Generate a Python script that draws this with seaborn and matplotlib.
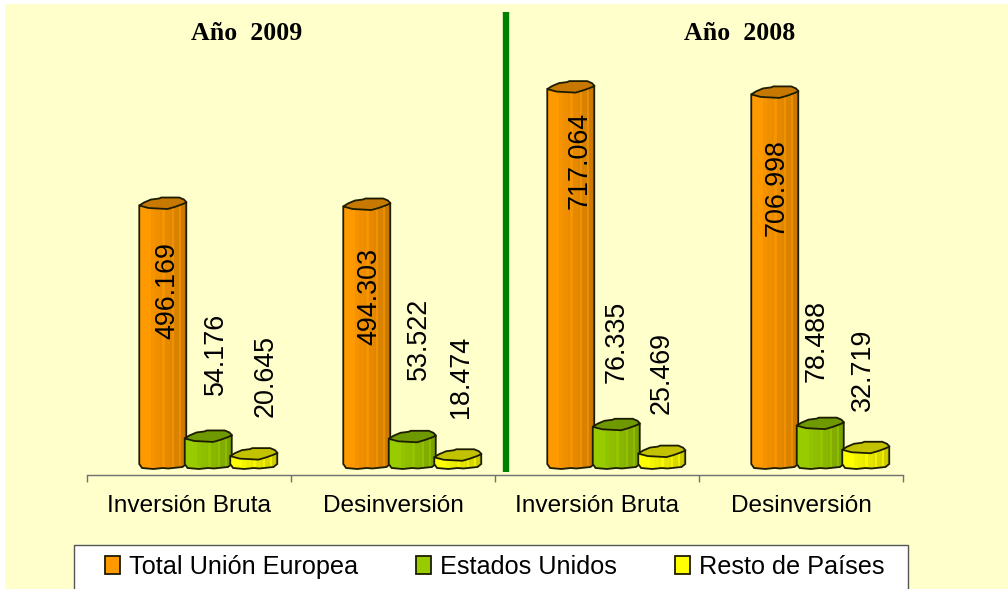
import numpy as np
import pandas as pd
import matplotlib
matplotlib.use('Agg')
import matplotlib.pyplot as plt
import seaborn as sns
from matplotlib.lines import Line2D
from matplotlib.patches import Patch, Polygon, Rectangle

# data
groups = ['2009 Inversión Bruta', '2009 Desinversión', '2008 Inversión Bruta', '2008 Desinversión']
tick_labels = ['Inversión Bruta', 'Desinversión', 'Inversión Bruta', 'Desinversión']
series = ['Total Unión Europea', 'Estados Unidos', 'Resto de Países']
union_europea = [496169, 494303, 717064, 706998]
estados_unidos = [54176, 53522, 76335, 78488]
resto_paises = [20645, 18474, 25469, 32719]

# styles
colors = ['#FF9900', '#99CC00', '#FFFF00']
cap_colors = ['#C67800', '#6F9900', '#C2C200']
shades = [1, 1, 1, 1, 1, .96, .96, .94, .94, .92, .97, .90, .90, .88, .95, .85, .85, .93, .80, .78]
edge = '#1c1c00'
W, H = 1008, 589
px_per_unit = 0.000527

# label offsets in pixels: from bar centre (x), from bar top to label centre (y, up is positive)
label_dx = [[5, 3, 10, 3], [8, 7, 1, -3], [13, 4, 1, -2]]
label_dy = [[-85, -90, -71, -93], [85, 100, 85, 85], [80, 80, 81, 80]]

rows = []
for name, vals in zip(series, [union_europea, estados_unidos, resto_paises]):
    for g, v in zip(groups, vals):
        rows.append({'grupo': g, 'serie': name, 'valor': v})
df = pd.DataFrame(rows)

sns.set_theme(style='white')
plt.rcParams['font.family'] = ['Liberation Sans', 'DejaVu Sans']

fig = plt.figure(figsize=(W / 100, H / 100), dpi=100, facecolor='white')
fig.patches.append(Rectangle((5 / W, 0), 1 - 5 / W, 1 - 4 / H, transform=fig.transFigure,
                             facecolor='#FFFFCC', edgecolor='none', zorder=-5))

ax = fig.add_axes([87 / W, 1 - 475 / H, 816 / W, 471 / H])
ax.patch.set_alpha(0)

sns.barplot(data=df, x='grupo', y='valor', hue='serie', order=groups, hue_order=series,
            palette=colors, width=0.669, gap=0, saturation=1, legend=False, ax=ax)

shift = 18.5 / 204
ax.set_xlim(-0.5 - shift, 3.5 - shift)
ax.set_ylim(-8 / px_per_unit, 463 / px_per_unit)
xlim, ylim = ax.get_xlim(), ax.get_ylim()
dx_px = 4 / 816
dy_px = 1 / px_per_unit

# cap and foot outlines, as fraction of width and pixels
cap_x = [0, .10, .25, .42, .47, .85, .95, 1, 1, .90, .75, .60, .20]
cap_y = [0, 3, 6, 7, 8, 8, 6, 3.5, 3, 1, -1.5, -3.5, -2.5]
foot_x = [1, .92, .62, .50, .30, .06, 0]
foot_y = [3, 0, -1.5, -1, -2, -1, 3]

for s, container in enumerate(ax.containers):
    for b, bar in enumerate(container):
        x0 = bar.get_x()
        w = bar.get_width() + 1.5 * dx_px
        top = bar.get_height()
        bottom_pts = [(x0 + fx * w, fy * dy_px) for fx, fy in zip(foot_x, foot_y)]
        body_pts = [(x0, top), (x0 + w, top + 3 * dy_px)] + bottom_pts
        body = Polygon(body_pts, closed=True, facecolor='none', edgecolor=edge, lw=1.3, zorder=3 + s)
        ax.add_patch(body)
        bar.set_zorder(2 + s)
        bar.set_clip_path(body)

        shade = np.array(shades)[None, :, None] * np.array(matplotlib.colors.to_rgb(colors[s]))[None, None, :]
        im = ax.imshow(np.clip(shade, 0, 1), extent=(x0, x0 + w, -4 * dy_px, top + 4 * dy_px),
                       aspect='auto', interpolation='nearest', zorder=2.5 + s)
        im.set_clip_path(body)

        cap_pts = [(x0 + fx * w, top + fy * dy_px) for fx, fy in zip(cap_x, cap_y)]
        ax.add_patch(Polygon(cap_pts, closed=True, facecolor=cap_colors[s], edgecolor=edge, lw=1.3, zorder=3 + s))

        text = f'{int(top):,}'.replace(',', '.')
        ax.annotate(text, xy=(x0 + bar.get_width() / 2, top), xytext=(label_dx[s][b], label_dy[s][b]),
                    textcoords='offset pixels', rotation=90, ha='center', va='center',
                    fontsize=19.4, color='black', zorder=20)

ax.set_xlim(xlim)
ax.set_ylim(ylim)

sns.despine(ax=ax, left=True)
ax.spines['bottom'].set_color('#707070')
ax.spines['bottom'].set_linewidth(1)
ax.set_yticks([])
ax.set_xlabel('')
ax.set_ylabel('')
ax.set_xticks([i - 0.5 - shift for i in range(5)])
ax.set_xticklabels([])
ax.tick_params(axis='x', which='major', length=5, width=1, color='#707070', bottom=True)
ax.set_xticks([i - shift for i in range(4)], minor=True)
ax.set_xticklabels(tick_labels, minor=True, fontsize=17.6, color='black')
ax.tick_params(axis='x', which='minor', length=0, pad=14.5, bottom=False)

# green divider
fig.add_artist(Line2D([506 / W, 506 / W], [1 - 12 / H, 1 - 472 / H], color='#008000', lw=4.6,
                      solid_capstyle='butt', transform=fig.transFigure))

fig.text(247 / W, 1 - 33 / H, 'Año  2009', ha='center', va='center', fontsize=18.6,
         fontweight='bold', family='Liberation Serif', color='black')
fig.text(740 / W, 1 - 33 / H, 'Año  2008', ha='center', va='center', fontsize=18.6,
         fontweight='bold', family='Liberation Serif', color='black')

# legend box runs off the bottom of the picture
fig.add_artist(Rectangle((74 / W, -2 / H), 834 / W, 46.5 / H, transform=fig.transFigure,
                         facecolor='white', edgecolor='#555555', lw=1))
handles = [Patch(facecolor=c, edgecolor=edge, lw=1.3) for c in colors]
fig.legend(handles, series, loc='center', bbox_to_anchor=(494.5 / W, 1 - 567 / H), ncol=3,
           frameon=False, fontsize=18.2, handlelength=0.6, handleheight=0.75, labelcolor='black',
           handletextpad=0.35, columnspacing=2.3, borderpad=0)

fig.savefig('out.png', dpi=100)
